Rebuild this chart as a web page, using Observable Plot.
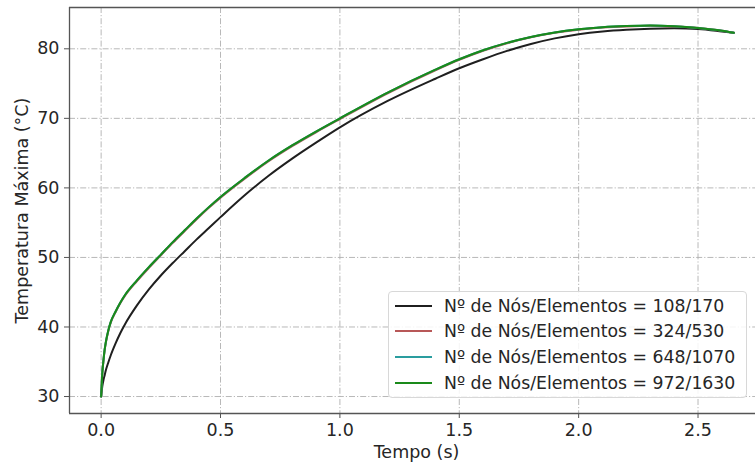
<!DOCTYPE html>
<html>
<head>
<meta charset="utf-8">
<script src="https://cdn.jsdelivr.net/npm/d3@7"></script>
<script src="https://cdn.jsdelivr.net/npm/@observablehq/plot@0.6"></script>
<style>
  html, body { margin: 0; padding: 0; background: #fff; }
  #wrap { position: relative; width: 755px; height: 464px; overflow: hidden; font-family: "DejaVu Sans", sans-serif; }
  #legend { position: absolute; left: 388px; top: 291px; width: 359px; height: 107px; box-sizing: border-box;
    border: 1px solid #d8d8d8; border-radius: 4px; background: rgba(255,255,255,0.85); padding: 1px 0 0 6px; }
  .row { display: flex; align-items: center; height: 25.6px; font-size: 17.3px; color: #262626; white-space: nowrap; }
  .sw { width: 37px; height: 0; border-top: 2px solid; margin-right: 12px; }
</style>
</head>
<body>
<div id="wrap"><div id="chart"></div><div id="legend"></div></div>
<script>
// Time (s)
const tempo = [0, 0.005, 0.01, 0.015, 0.02, 0.03, 0.04, 0.06, 0.08, 0.1, 0.15, 0.2, 0.25, 0.3, 0.35, 0.4, 0.45, 0.5, 0.6, 0.7, 0.8, 0.9, 1.0, 1.2, 1.4, 1.5, 1.6, 1.7, 1.8, 1.9, 2.0, 2.1, 2.2, 2.3, 2.4, 2.5, 2.6, 2.65];
// Max temperature (°C) per mesh
const t108 = [30, 31.5, 32.4, 33.1, 33.8, 34.9, 35.9, 37.6, 39.1, 40.4, 43.1, 45.4, 47.4, 49.2, 50.9, 52.6, 54.2, 55.8, 58.9, 61.7, 64.2, 66.5, 68.7, 72.5, 75.7, 77.2, 78.5, 79.7, 80.7, 81.5, 82.1, 82.5, 82.75, 82.9, 82.95, 82.85, 82.5, 82.3];
const t324 = [30, 33.3, 35.2, 36.7, 37.8, 39.4, 40.6, 42.1, 43.4, 44.5, 46.6, 48.5, 50.3, 52.1, 53.8, 55.5, 57.1, 58.6, 61.3, 63.8, 66.0, 68.0, 69.9, 73.6, 76.9, 78.4, 79.7, 80.8, 81.65, 82.3, 82.75, 83.05, 83.22, 83.3, 83.2, 83.0, 82.6, 82.3];
const t648 = [30, 33.4, 35.3, 36.8, 37.9, 39.5, 40.7, 42.2, 43.5, 44.6, 46.7, 48.6, 50.4, 52.2, 53.9, 55.6, 57.2, 58.7, 61.4, 63.9, 66.1, 68.1, 70.0, 73.7, 77.0, 78.5, 79.8, 80.85, 81.7, 82.35, 82.8, 83.1, 83.27, 83.35, 83.25, 83.0, 82.6, 82.3];
const t972 = [30, 33.4, 35.3, 36.8, 37.9, 39.5, 40.7, 42.2, 43.5, 44.6, 46.7, 48.6, 50.4, 52.2, 53.9, 55.6, 57.2, 58.7, 61.4, 63.9, 66.1, 68.1, 70.0, 73.7, 77.0, 78.5, 79.8, 80.85, 81.7, 82.35, 82.8, 83.1, 83.27, 83.35, 83.25, 83.0, 82.6, 82.3];
const seriesNames = ["Nº de Nós/Elementos = 108/170", "Nº de Nós/Elementos = 324/530", "Nº de Nós/Elementos = 648/1070", "Nº de Nós/Elementos = 972/1630"];
const seriesValues = [t108, t324, t648, t972];
const seriesColors = ["#1f1f1f", "#b85858", "#2a9d9f", "#1a8a1a"];
const xTicks = [0, 0.5, 1.0, 1.5, 2.0, 2.5];
const yTicks = [30, 40, 50, 60, 70, 80];

const data = [];
seriesNames.forEach((name, i) => tempo.forEach((t, j) => data.push({t, T: seriesValues[i][j], s: name})));

const xDom = [-0.1325, 2.7407];
const yDom = [27.56, 85.94];
const gridStyle = {stroke: "#b0b0b0", strokeOpacity: 1, strokeWidth: 0.9, strokeDasharray: "6,2,1.2,2"};

const chart = Plot.plot({
  width: 755, height: 464,
  marginLeft: 69, marginRight: 0, marginTop: 7, marginBottom: 51,
  style: {fontFamily: "DejaVu Sans, sans-serif", fontSize: "17.5px", color: "#262626", background: "transparent"},
  x: {domain: xDom},
  y: {domain: yDom},
  color: {domain: seriesNames, range: seriesColors},
  marks: [
    Plot.gridX(xTicks, gridStyle),
    Plot.gridY(yTicks, gridStyle),
    Plot.axisX(xTicks, {tickFormat: d3.format(".1f"), tickSize: 5, tickPadding: 5, stroke: "#555", fontSize: 17.5, label: null}),
    Plot.axisY(yTicks, {tickSize: 5, tickPadding: 5, stroke: "#555", fontSize: 17.5, label: null}),
    Plot.line(data, {x: "t", y: "T", z: "s", stroke: "s", strokeWidth: 2, curve: "monotone-x"}),
    Plot.ruleX([xDom[0]], {stroke: "#555", strokeWidth: 1.3}),
    Plot.ruleY([yDom[0], yDom[1]], {stroke: "#555", strokeWidth: 1.3}),
    Plot.text(["Tempo (s)"], {frameAnchor: "bottom", dy: 44, dx: 4, fontSize: 17.5, fill: "#262626"}),
    Plot.text(["Temperatura Máxima (°C)"], {frameAnchor: "left", textAnchor: "middle", lineAnchor: "middle", dx: -47, rotate: -90, fontSize: 17.5, fill: "#262626"})
  ]
});
document.getElementById("chart").appendChild(chart);

const leg = document.getElementById("legend");
seriesNames.forEach((name, i) => {
  const row = document.createElement("div");
  row.className = "row";
  const sw = document.createElement("span");
  sw.className = "sw";
  sw.style.borderTopColor = seriesColors[i];
  const lab = document.createElement("span");
  lab.textContent = name;
  row.appendChild(sw); row.appendChild(lab);
  leg.appendChild(row);
});
</script>
</body>
</html>
